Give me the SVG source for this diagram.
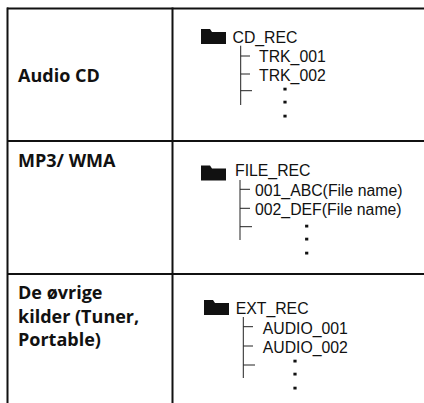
<svg xmlns="http://www.w3.org/2000/svg" width="424" height="403" viewBox="0 0 424 403">
<style>
.grid{stroke:#111;stroke-width:2;fill:none}
.tree{stroke:#222;stroke-width:1;fill:none}
.lbl{font-family:"Open Sans","DejaVu Sans",sans-serif;font-weight:bold;font-size:18px;fill:#111}
.f{font-family:"Liberation Sans",Arial,sans-serif;font-size:15.8px;fill:#111}
.dot{fill:#111}
.fold{fill:#111}
</style>
<defs>
<path id="folder" d="M0,0 h9 l2,3 h14 v12 h-25 z"/>
<g id="dots">
<rect x="-1.6" y="-1.3" width="3.2" height="2.8"/>
<rect x="-1.6" y="11.7" width="3.2" height="2.8"/>
<rect x="-1.6" y="25.7" width="3.2" height="2.8"/>
</g>
</defs>
<g id="table" class="grid">
<line x1="7" y1="8.5" x2="424" y2="8.5"/>
<line x1="7" y1="141" x2="424" y2="141"/>
<line x1="7" y1="274" x2="424" y2="274"/>
<line x1="7.5" y1="7.5" x2="7.5" y2="403"/>
<line x1="172.5" y1="7.5" x2="172.5" y2="403"/>
</g>
<g id="row-audio-cd">
<text class="lbl" x="18" y="82">Audio CD</text>
<use href="#folder" class="fold" x="201" y="29"/>
<text class="f" x="232.5" y="42.7">CD_REC</text>
<text class="f" x="259" y="61.7">TRK_001</text>
<text class="f" x="259" y="80.7">TRK_002</text>
<use href="#dots" class="dot" x="285" y="89"/>
</g>
<g id="row-mp3">
<text class="lbl" x="18" y="167.3">MP3/ WMA</text>
<use href="#folder" class="fold" x="201" y="165.5"/>
<text class="f" x="235" y="175.7">FILE_REC</text>
<text class="f" x="255" y="196">001_ABC(File name)</text>
<text class="f" x="255" y="215">002_DEF(File name)</text>
<use href="#dots" class="dot" x="306.7" y="226"/>
</g>
<g id="row-other">
<text class="lbl" x="18" y="299.3">De øvrige</text>
<text class="lbl" x="18" y="322.7">kilder (Tuner,</text>
<text class="lbl" x="18" y="346">Portable)</text>
<use href="#folder" class="fold" x="204" y="300"/>
<text class="f" x="235.7" y="314.3">EXT_REC</text>
<text class="f" x="262.7" y="334">AUDIO_001</text>
<text class="f" x="262.7" y="353.3">AUDIO_002</text>
<use href="#dots" class="dot" x="295" y="361"/>
</g>
<g id="connectors" class="tree">
<path d="M240.7,45.7 V105 M240.7,56 H250 M240.7,74 H250 M240.7,90.7 H252"/>
<path d="M240,180 V240 M240,189.3 H250 M240,208.3 H250 M240,226.7 H252"/>
<path d="M243.3,317 V378 M243.3,326.7 H253 M243.3,346 H253 M243.3,365 H255"/>
</g>
</svg>
